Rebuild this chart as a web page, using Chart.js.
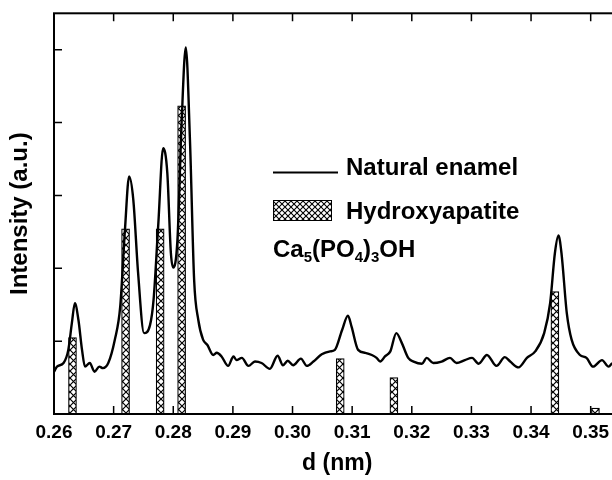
<!DOCTYPE html>
<html><head><meta charset="utf-8">
<script src="https://cdn.jsdelivr.net/npm/chart.js@4/dist/chart.umd.min.js"></script>
<style>
html,body{margin:0;padding:0;background:#fff;overflow:hidden;width:612px;height:480px}
#wrap{width:640px;height:480px;position:relative}
</style></head>
<body><div id="wrap"><canvas id="c" width="640" height="480"></canvas></div>
<script>
// Natural enamel XRD profile: d (nm) vs intensity (a.u.)
const enamelD = [0.2600,0.2605,0.2616,0.2624,0.2630,0.2635,0.2641,0.2647,0.2652,0.2660,0.2668,0.2676,0.2682,0.2691,0.2702,0.2711,0.2719,0.2726,0.2733,0.2741,0.2751,0.2761,0.2767,0.2775,0.2783,0.2790,0.2796,0.2800,0.2807,0.2814,0.2821,0.2828,0.2835,0.2842,0.2850,0.2857,0.2867,0.2873,0.2881,0.2892,0.2901,0.2906,0.2915,0.2926,0.2937,0.2948,0.2962,0.2975,0.2984,0.2992,0.3001,0.3014,0.3024,0.3035,0.3049,0.3063,0.3071,0.3083,0.3093,0.3099,0.3110,0.3122,0.3133,0.3141,0.3147,0.3155,0.3164,0.3174,0.3183,0.3194,0.3203,0.3217,0.3225,0.3236,0.3250,0.3264,0.3275,0.3289,0.3301,0.3312,0.3326,0.3342,0.3356,0.3365,0.3379,0.3393,0.3407,0.3422,0.3432,0.3440,0.3446,0.3451,0.3460,0.3468,0.3482,0.3493,0.3504,0.3519,0.3530,0.3536];
const enamelI = [0.58,0.65,0.70,0.88,1.25,1.52,1.29,0.88,0.65,0.70,0.58,0.65,0.63,0.70,1.02,1.47,2.53,3.26,2.94,1.94,1.11,1.22,1.57,2.62,3.65,3.31,2.21,2.01,2.39,4.00,5.03,3.76,1.84,1.29,1.02,0.95,0.81,0.84,0.79,0.66,0.79,0.74,0.77,0.66,0.72,0.70,0.62,0.80,0.67,0.73,0.67,0.76,0.66,0.72,0.82,0.86,0.88,1.15,1.35,1.20,0.88,0.84,0.81,0.77,0.72,0.79,0.86,1.11,0.98,0.77,0.72,0.69,0.77,0.70,0.72,0.77,0.70,0.74,0.77,0.69,0.81,0.66,0.78,0.72,0.64,0.77,0.86,1.11,1.52,2.21,2.45,2.21,1.38,1.02,0.81,0.77,0.65,0.74,0.65,0.70];
// Hydroxyapatite reference lines
const hapD = [0.2631,0.2720,0.2778,0.2814,0.3080,0.3170,0.3440,0.3508];
const hapI = [1.05,2.54,2.54,4.23,0.76,0.50,1.68,0.08];
const xTickLabels = ['0.26','0.27','0.28','0.29','0.30','0.31','0.32','0.33','0.34','0.35'];
const seriesNames = ['Natural enamel','Hydroxyapatite'];

const FONT = "'Liberation Sans', Arial, Helvetica, sans-serif";
Chart.defaults.font.family = FONT;
Chart.defaults.font.weight = 'bold';
Chart.defaults.color = '#000';

function hatch(size, lw){
  const c = document.createElement('canvas'); c.width = size; c.height = size;
  const g = c.getContext('2d');
  g.fillStyle = '#fff'; g.fillRect(0,0,size,size);
  g.strokeStyle = '#000'; g.lineWidth = lw;
  g.beginPath();
  g.moveTo(0,0); g.lineTo(size,size);
  g.moveTo(size,0); g.lineTo(0,size);
  g.stroke();
  return document.getElementById('c').getContext('2d').createPattern(c,'repeat');
}
const barPattern = hatch(7, 1.2);
const legendPattern = hatch(6, 1.1);

const framePlugin = {
  id: 'frame',
  afterDatasetsDraw(chart){
    const {ctx, chartArea:{left,right,top,bottom}, scales:{x,y}} = chart;
    ctx.save();
    ctx.strokeStyle = '#000';
    ctx.lineWidth = 1.5;
    ctx.beginPath();
    x.ticks.forEach(t => {
      const px = x.getPixelForValue(t.value);
      ctx.moveTo(px,bottom); ctx.lineTo(px,bottom-8);
      ctx.moveTo(px,top); ctx.lineTo(px,top+8);
    });
    y.ticks.forEach(t => {
      if (t.value <= 0) return;
      const py = y.getPixelForValue(t.value);
      ctx.moveTo(left,py); ctx.lineTo(left+8,py);
      ctx.moveTo(right,py); ctx.lineTo(right-8,py);
    });
    ctx.stroke();
    ctx.lineWidth = 2;
    ctx.strokeRect(left,top,right-left,bottom-top);

    // legend
    ctx.fillStyle = '#000';
    ctx.textBaseline = 'alphabetic';
    ctx.textAlign = 'left';
    ctx.lineWidth = 2.2;
    ctx.beginPath(); ctx.moveTo(273,172.5); ctx.lineTo(338,172.5); ctx.stroke();
    ctx.font = 'bold 24px ' + FONT;
    ctx.fillText(seriesNames[0], 346, 175);
    ctx.fillStyle = legendPattern;
    ctx.fillRect(273.5,200.5,58,20);
    ctx.lineWidth = 1;
    ctx.strokeRect(273.5,200.5,58,20);
    ctx.fillStyle = '#000';
    ctx.fillText(seriesNames[1], 346, 219);
    // Ca5(PO4)3OH
    const parts = [['Ca',0],['5',1],['(PO',0],['4',1],[')',0],['3',1],['OH',0]];
    let cx = 273;
    parts.forEach(([s,sub]) => {
      ctx.font = sub ? 'bold 15px ' + FONT : 'bold 24px ' + FONT;
      ctx.fillText(s, cx, sub ? 262 : 256.5);
      cx += ctx.measureText(s).width;
    });
    ctx.restore();
  }
};

new Chart(document.getElementById('c'), {
  type: 'bar',
  data: {
    datasets: [
      {
        type: 'line',
        label: seriesNames[0],
        data: enamelD.map((d,i) => ({x:d, y:enamelI[i]})),
        borderColor: '#000',
        borderWidth: 2.4,
        pointRadius: 0,
        fill: false,
        cubicInterpolationMode: 'monotone',
        order: 0
      },
      {
        type: 'bar',
        label: seriesNames[1],
        data: hapD.map((d,i) => ({x:d, y:hapI[i]})),
        backgroundColor: barPattern,
        borderColor: '#000',
        borderWidth: 1.2,
        barThickness: 8,
        order: 1
      }
    ]
  },
  options: {
    responsive: false,
    animation: false,
    events: [],
    layout: {padding: {left:0, right:19.5, top:13.3, bottom:0}},
    plugins: {legend:{display:false}, tooltip:{enabled:false}},
    scales: {
      x: {
        type: 'linear',
        offset: false,
        min: 0.26, max: 0.355,
        grid: {display:false, drawTicks:false},
        border: {display:false},
        ticks: {stepSize:0.01, includeBounds:false, padding:7, maxRotation:0, autoSkip:false,
                font:{size:19, weight:'bold'},
                callback: (v,i) => xTickLabels[i] ?? ''},
        title: {display:true, text:'d (nm)', font:{size:23, weight:'bold'}, padding:{top:0,bottom:2.2}},
        afterFit: s => { s.height = 66; }
      },
      y: {
        min: 0, max: 5.5,
        grid: {display:false, drawTicks:false},
        border: {display:false},
        ticks: {display:false, stepSize:1, includeBounds:false},
        title: {display:true, text:'Intensity (a.u.)', font:{size:24, weight:'bold'}, padding:{top:5.6,bottom:0}},
        afterFit: s => { s.width = 54; }
      }
    }
  },
  plugins: [framePlugin]
});
</script>
</body></html>
